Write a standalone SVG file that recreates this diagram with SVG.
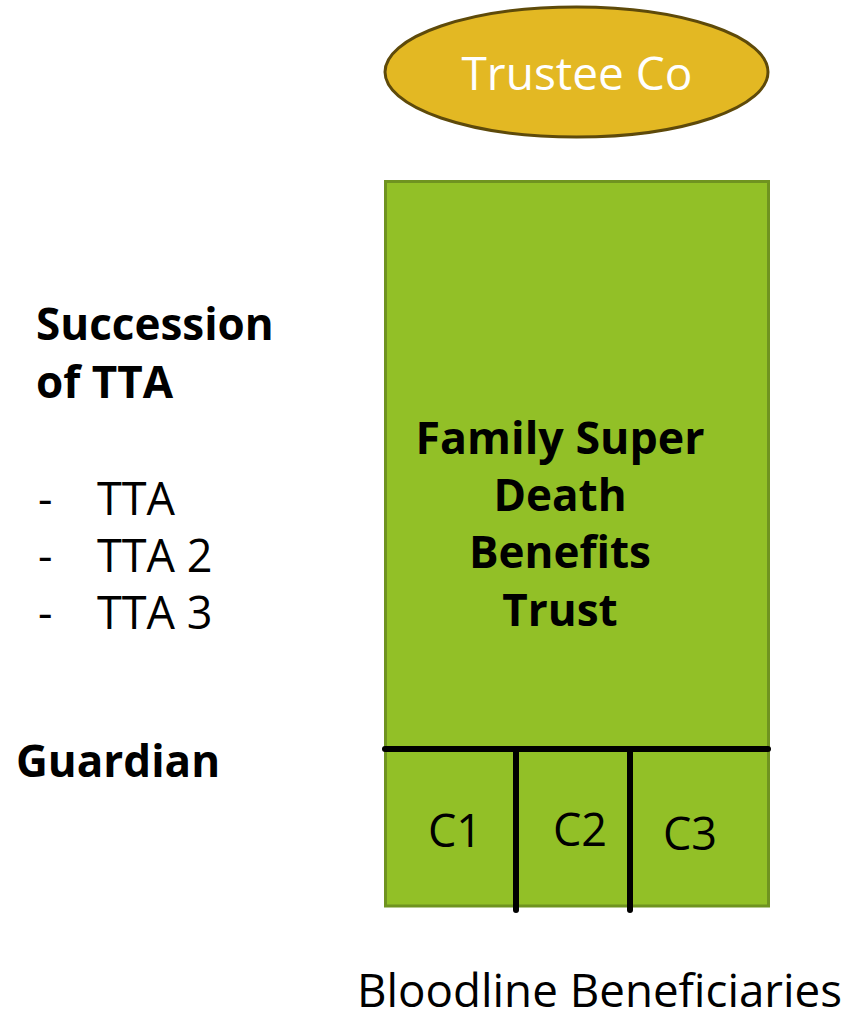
<svg xmlns="http://www.w3.org/2000/svg" width="849" height="1013" viewBox="0 0 849 1013">
  <style>
    text { font-family: "Open Sans", "DejaVu Sans", sans-serif; fill: #000; font-size: 45px; }
    .b { font-weight: bold; font-size: 44px; }
    .rule { stroke: #000; stroke-width: 6; stroke-linecap: round; fill: none; }
  </style>
  <rect width="849" height="1013" fill="#fff"/>

  <!-- trustee company -->
  <g id="trustee">
    <ellipse cx="576.5" cy="72" rx="191.5" ry="65" fill="#E3B823" stroke="#5E4A0A" stroke-width="3"/>
    <text x="577" y="90" font-size="46" text-anchor="middle" style="fill:#fff;font-size:46px">Trustee Co</text>
  </g>

  <!-- the trust -->
  <g id="trust">
    <rect x="385.5" y="181.5" width="383" height="724.5" fill="#92C027" stroke="#6F9320" stroke-width="3"/>
    <text class="b" text-anchor="middle" x="560" y="454" textLength="289" lengthAdjust="spacingAndGlyphs">Family Super</text>
    <text class="b" text-anchor="middle" x="560" y="511">Death</text>
    <text class="b" text-anchor="middle" x="560" y="568">Benefits</text>
    <text class="b" text-anchor="middle" x="560" y="626">Trust</text>
  </g>

  <!-- compartment dividers -->
  <g id="connectors">
    <line class="rule" x1="385" y1="749" x2="768" y2="749"/>
    <line class="rule" x1="516" y1="750" x2="516" y2="910"/>
    <line class="rule" x1="630" y1="750" x2="630" y2="910"/>
  </g>
  <g id="c1"><text text-anchor="middle" x="455" y="847">C1</text></g>
  <g id="c2"><text text-anchor="middle" x="580" y="846">C2</text></g>
  <g id="c3"><text text-anchor="middle" x="690" y="850">C3</text></g>

  <!-- side labels -->
  <g id="succession">
    <text class="b" x="36" y="340">Succession</text>
    <text class="b" x="36" y="398">of TTA</text>
    <text x="38" y="515">-</text>
    <text x="97" y="515">TTA</text>
    <text x="38" y="572">-</text>
    <text x="97" y="572">TTA 2</text>
    <text x="38" y="629">-</text>
    <text x="97" y="629">TTA 3</text>
  </g>
  <g id="guardian">
    <text class="b" x="16" y="777">Guardian</text>
  </g>
  <g id="beneficiaries">
    <text x="357" y="1007" textLength="485" lengthAdjust="spacingAndGlyphs">Bloodline Beneficiaries</text>
  </g>
</svg>
